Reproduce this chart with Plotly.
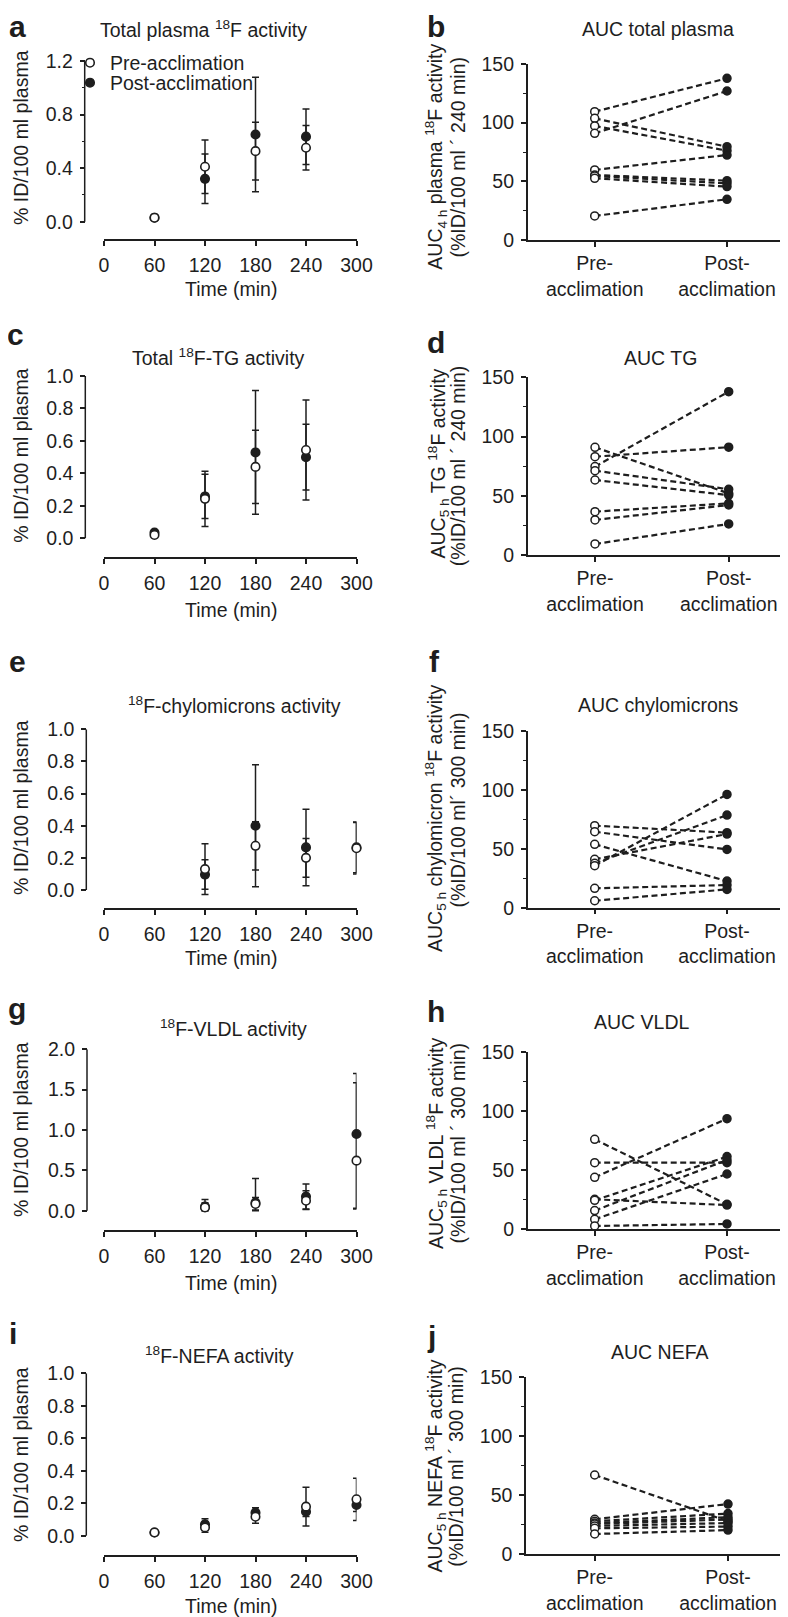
import plotly.graph_objects as go

W, H = 788, 1617
OFFY = 8  # the page puts the figure 8 px below the top edge
FONT = "Liberation Sans, Arial, Helvetica, sans-serif"
INK = "#1e1e1e"
FS = 19.5

# ---- time courses (mean, SD) ----
time_a = [60, 120, 180, 240]
pre_a = [0.03, 0.41, 0.527, 0.552]
pre_a_sd = [0.01, 0.20, 0.216, 0.166]
post_a = [0.03, 0.32, 0.651, 0.635]
post_a_sd = [0.01, 0.185, 0.427, 0.207]

time_c = [60, 120, 180, 240]
pre_c = [0.02, 0.243, 0.44, 0.544]
pre_c_sd = [0.01, 0.17, 0.225, 0.308]
post_c = [0.035, 0.258, 0.529, 0.50]
post_c_sd = [0.01, 0.136, 0.381, 0.202]

time_e = [120, 180, 240, 300]
pre_e = [0.13, 0.275, 0.20, 0.26]
pre_e_sd = [0.158, 0.15, 0.12, 0.16]
post_e = [0.096, 0.40, 0.265, 0.265]
post_e_sd = [0.092, 0.38, 0.238, 0.158]

time_g = [120, 180, 240, 300]
pre_g = [0.04, 0.083, 0.124, 0.62]
pre_g_up = [0.06, 0.08, 0.124, 0.967]
pre_g_dn = [0.04, 0.075, 0.11, 0.59]
post_g = [0.05, 0.10, 0.175, 0.95]
post_g_up = [0.09, 0.30, 0.155, 0.75]
post_g_dn = [0.05, 0.10, 0.155, 0.93]

time_i = [60, 120, 180, 240, 300]
pre_i = [0.02, 0.051, 0.117, 0.179, 0.224]
pre_i_sd = [0.005, 0.03, 0.04, 0.12, 0.13]
post_i = [0.02, 0.07, 0.142, 0.148, 0.189]
post_i_sd = [0.005, 0.035, 0.03, 0.03, 0.04]

# ---- individual AUCs (pre -> post) ----
auc_b_pre = [109.4, 103.7, 97.2, 90.9, 59.7, 55.4, 54.5, 52.6, 20.5]
auc_b_post = [137.8, 79.5, 76.1, 127.0, 72.4, 50.6, 48.3, 45.5, 34.7]
auc_d_pre = [90.9, 83.0, 74.6, 71.2, 63.3, 36.6, 29.6, 9.3]
auc_d_post = [52.0, 91.0, 137.9, 55.5, 50.5, 43.6, 42.2, 26.2]
auc_f_pre = [69.5, 64.4, 53.7, 41.0, 37.6, 35.6, 16.4, 5.9]
auc_f_post = [63.6, 49.4, 22.6, 62.4, 78.5, 96.0, 19.2, 15.5]
auc_h_pre = [76.0, 56.3, 43.9, 25.3, 24.5, 15.8, 8.4, 2.8]
auc_h_post = [21.1, 56.3, 93.4, 20.5, 61.4, 58.5, 46.7, 4.5]
auc_j_pre = [67.2, 29.7, 28.0, 26.5, 25.7, 24.0, 22.0, 17.2]
auc_j_post = [28.0, 42.6, 34.5, 31.5, 29.5, 26.5, 23.5, 20.5]

time_ticks = [0, 60, 120, 180, 240, 300]
groups = ["Pre-<br>acclimation", "Post-<br>acclimation"]


def px(x):
    return x / W


def py(y):
    return 1 - (y - OFFY) / H


fig = go.Figure()
layout = {}
annotations = []
shapes = []


def ax_names(n):
    s = "" if n == 1 else str(n)
    return "x" + s, "y" + s, "xaxis" + s, "yaxis" + s


def text(x, y, t, size=FS, angle=0, bold=False, yanchor="middle"):
    annotations.append(dict(
        x=px(x), y=min(py(y), 1.0), xref="paper", yref="paper", text=t, showarrow=False,
        textangle=angle, xanchor="center", yanchor=yanchor,
        font=dict(size=size, color=INK, family=FONT, weight="bold" if bold else "normal"),
    ))


axis_style = dict(showline=True, linecolor=INK, linewidth=1.5, ticks="outside", ticklen=5,
                  tickwidth=1.5, tickcolor=INK, showgrid=False, zeroline=False, automargin=False,
                  tickfont=dict(size=FS, color=INK, family=FONT))


def time_panel(n, times, pre, pre_up, pre_dn, post, post_up, post_dn, ymax, dtick,
               ytop, ybot, xline, yline, minor=None, legend=False):
    xa, ya, xk, yk = ax_names(n)
    series = [("Post-acclimation", post, post_up, post_dn, INK, "legend2"),
              ("Pre-acclimation", pre, pre_up, pre_dn, "white", "legend")]
    for name, vals, up, dn, fill, leg in series:
        fig.add_trace(go.Scatter(
            x=times, y=vals, mode="markers", name=name, xaxis=xa, yaxis=ya,
            error_y=dict(type="data", array=up, arrayminus=dn, color=INK, thickness=1.5, width=3.5),
            marker=dict(size=8.5, color=fill, line=dict(color=INK, width=1.6)),
            cliponaxis=False, showlegend=legend, legend=leg,
        ))
    # detached axes: the y domain reaches down to the x axis, the y axis line
    # itself is drawn only over the data range
    ymin = -ymax * (xline - ybot) / (ybot - ytop)
    layout[xk] = dict(axis_style, domain=[px(96), px(348.5)], range=[0, 300], anchor=ya,
                      tickvals=time_ticks, ticklabelstandoff=3)
    ydict = dict(axis_style, domain=[py(xline), py(ytop)], range=[ymin, ymax], anchor="free",
                 position=px(yline), showline=False, dtick=dtick, tick0=0, tickformat=".1f",
                 ticklabelstandoff=3)
    if minor:
        ydict["minor"] = dict(dtick=minor, tick0=0, ticks="outside", ticklen=3, tickwidth=1.2, tickcolor=INK)
    layout[yk] = ydict
    shapes.append(dict(type="line", xref="paper", yref=ya, x0=px(yline), x1=px(yline),
                       y0=0, y1=ymax, line=dict(color=INK, width=1.5)))


def auc_panel(n, pre, post, ytop, ybot, yline, xpre=587, xpost=720):
    xa, ya, xk, yk = ax_names(n)
    step = xpost - xpre
    right = 786
    for a, b in zip(pre, post):
        fig.add_trace(go.Scatter(
            x=[0, 1], y=[a, b], mode="lines+markers", xaxis=xa, yaxis=ya, showlegend=False,
            line=dict(color=INK, width=2.2, dash="6px,3.5px"),
            marker=dict(size=8, color=["white", INK], line=dict(color=INK, width=1.5)),
            cliponaxis=False,
        ))
    layout[xk] = dict(axis_style, domain=[px(yline), px(right)],
                      range=[(yline - xpre) / step, (right - xpre) / step], anchor=ya,
                      tickvals=[0, 1], ticktext=groups, ticklabelstandoff=0)
    layout[yk] = dict(axis_style, domain=[py(ybot), py(ytop)], range=[0, 150], anchor=xa,
                      dtick=50, tick0=0, ticklabelstandoff=3,
                      minor=dict(dtick=25, tick0=0, ticks="outside", ticklen=3, tickwidth=1.2, tickcolor=INK))


# left column
time_panel(1, time_a, pre_a, pre_a_sd, pre_a_sd, post_a, post_a_sd, post_a_sd,
           1.2, 0.4, 61, 221.7, 239.3, 76.7, minor=0.2, legend=True)
time_panel(3, time_c, pre_c, pre_c_sd, pre_c_sd, post_c, post_c_sd, post_c_sd,
           1.0, 0.2, 376, 538.3, 557.3, 77.3)
time_panel(5, time_e, pre_e, pre_e_sd, pre_e_sd, post_e, post_e_sd, post_e_sd,
           1.0, 0.2, 729.3, 890, 908.3, 78.3)
time_panel(7, time_g, pre_g, pre_g_up, pre_g_dn, post_g, post_g_up, post_g_dn,
           2.0, 0.5, 1049.3, 1210.7, 1230, 79)
time_panel(9, time_i, pre_i, pre_i_sd, pre_i_sd, post_i, post_i_sd, post_i_sd,
           1.0, 0.2, 1373.3, 1535.7, 1555, 78.3)

# right column
auc_panel(2, auc_b_pre, auc_b_post, 64, 240, 519.7, 586.7, 719)
auc_panel(4, auc_d_pre, auc_d_post, 377.3, 555, 519.7, 587, 720.7)
auc_panel(6, auc_f_pre, auc_f_post, 730.7, 907.7, 519.7, 586.7, 719)
auc_panel(8, auc_h_pre, auc_h_post, 1051.7, 1229.3, 519.7, 586.7, 719)
auc_panel(10, auc_j_pre, auc_j_post, 1377.3, 1554.3, 518, 586.7, 720)

# panel letters (a and b sit against the top edge of the figure)
text(9, 0, "a", size=30, bold=True, yanchor="top")
text(428, 0, "b", size=30, bold=True, yanchor="top")
for letter, x, y in [("c", 8, 335), ("d", 428, 343), ("e", 9, 662), ("f", 426, 661),
                     ("g", 9, 1008), ("h", 428, 1011), ("i", 5, 1333), ("j", 424, 1336)]:
    text(x, y, letter, size=30, bold=True)

# panel titles
for t, x, y in [("Total plasma <sup>18</sup>F activity", 195, 29.4),
                ("AUC total plasma", 650, 29.4),
                ("Total <sup>18</sup>F-TG activity", 210.8, 356.7),
                ("AUC TG", 652.3, 358.4),
                ("<sup>18</sup>F-chylomicrons activity", 226.7, 705),
                ("AUC chylomicrons", 650.7, 705),
                ("<sup>18</sup>F-VLDL activity", 225.8, 1028.3),
                ("AUC VLDL", 634, 1021.7),
                ("<sup>18</sup>F-NEFA activity", 211.7, 1355),
                ("AUC NEFA", 652, 1351.7)]:
    text(x, y, t)

# left axis titles
for y in [138, 455.8, 808, 1130, 1455]:
    text(13, y, "% ID/100 ml plasma", angle=-90)
for y in [289, 609.5, 958, 1283, 1606]:
    text(223, y, "Time (min)")

# right axis titles (two rotated lines each)
for l1, l2, y1, y2, x1, x2 in [
    ("AUC<sub>4 h</sub> plasma <sup>18</sup>F activity", "(%ID/100 ml ´ 240 min)", 156.7, 157.5, 428, 449),
    ("AUC<sub>5 h</sub> TG <sup>18</sup>F activity", "(%ID/100 ml ´ 240 min)", 464, 466.7, 429.5, 449.5),
    ("AUC<sub>5 h</sub> chylomicron <sup>18</sup>F activity", "(%ID/100 ml´ 300 min)", 818, 810, 428, 449.5),
    ("AUC<sub>5 h</sub> VLDL <sup>18</sup>F activity", "(%ID/100 ml ´ 300 min)", 1143, 1144, 428, 449.5),
    ("AUC<sub>5 h</sub> NEFA <sup>18</sup>F activity", "(%ID/100 ml ´ 300 min)", 1466, 1466.7, 426.5, 448),
]:
    text(x1, y1, l1, angle=-90)
    text(x2, y2, l2, angle=-90)

legend_style = dict(xanchor="left", yanchor="middle", bgcolor="rgba(0,0,0,0)", borderwidth=0,
                    font=dict(size=FS, color=INK, family=FONT), itemwidth=30)

fig.update_layout(
    template="none",
    width=W, height=H, margin=dict(l=0, r=0, t=0, b=0),
    paper_bgcolor="white", plot_bgcolor="white",
    font=dict(family=FONT, size=FS, color=INK),
    annotations=annotations,
    shapes=shapes,
    showlegend=True,
    legend=dict(legend_style, x=px(62), y=py(63)),
    legend2=dict(legend_style, x=px(62), y=py(83)),
    **layout,
)

fig.write_html("out.html")
